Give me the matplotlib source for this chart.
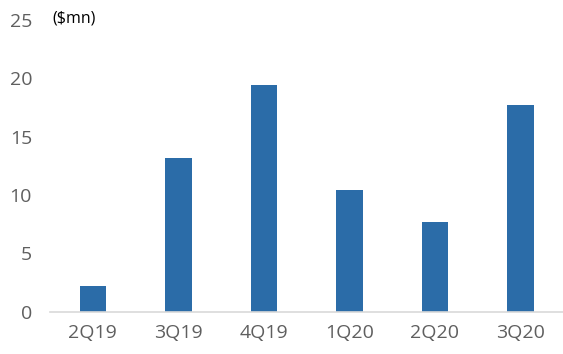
import numpy as np
import matplotlib.pyplot as plt

quarters = ["2Q19", "3Q19", "4Q19", "1Q20", "2Q20", "3Q20"]
values = [2.2, 13.2, 19.45, 10.4, 7.7, 17.7]
yticks = [0, 5, 10, 15, 20, 25]

fig = plt.figure(figsize=(5.63, 3.54), dpi=100)
ax = fig.add_axes([0.089, 0.1195, 0.911, 0.824])

x = np.arange(len(quarters))
ax.bar(x, values, width=0.31, color="#2B6CA8")

ax.set_xlim(-0.5, 5.5)
ax.set_ylim(0, 25)
ax.set_xticks(x)
ax.set_xticklabels(quarters)
ax.set_yticks(yticks)

for s in ["top", "right", "left"]:
    ax.spines[s].set_visible(False)
ax.spines["bottom"].set_color("#d9d9d9")
ax.spines["bottom"].set_linewidth(1.2)

ax.tick_params(axis="both", length=0, labelsize=14, labelcolor="#5f5f5f",
               pad=9)
ax.tick_params(axis="y", pad=13)
for lab in ax.get_xticklabels() + ax.get_yticklabels():
    lab.set_family("Open Sans")

fig.text(0.093, 0.948, "($mn)", fontsize=11.5, color="#000000",
         family="Open Sans", va="center", ha="left")

fig.savefig("out.png", dpi=100)
